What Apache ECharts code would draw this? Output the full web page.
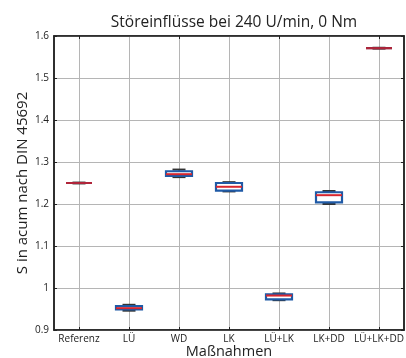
<!DOCTYPE html>
<html>
<head>
<meta charset="utf-8">
<script src="https://cdn.jsdelivr.net/npm/echarts@6/dist/echarts.min.js"></script>
<style>html,body{margin:0;padding:0;background:#fff;}#c{width:406px;height:358px;}</style>
</head>
<body>
<div id="c"></div>
<script>
const categories = ['Referenz', 'LÜ', 'WD', 'LK', 'LÜ+LK', 'LK+DD', 'LÜ+LK+DD'];
const whiskerLow  = [1.249, 0.946, 1.264, 1.230, 0.971, 1.200, 1.570];
const quartile1   = [1.250, 0.949, 1.267, 1.232, 0.973, 1.204, 1.571];
const median      = [1.250, 0.952, 1.271, 1.241, 0.982, 1.221, 1.571];
const quartile3   = [1.250, 0.957, 1.278, 1.250, 0.985, 1.228, 1.571];
const whiskerHigh = [1.251, 0.960, 1.282, 1.252, 0.987, 1.231, 1.572];
const yTicks = [0.9, 1.0, 1.1, 1.2, 1.3, 1.4, 1.5, 1.6];

const data = categories.map((c, i) => [i, whiskerLow[i], quartile1[i], median[i], quartile3[i], whiskerHigh[i]]);
const FONT = '"Open Sans", "Noto Sans", sans-serif';

const chart = echarts.init(document.getElementById('c'), null, {renderer: 'canvas'});
chart.setOption({
  animation: false,
  backgroundColor: '#fff',
  title: {
    text: 'Störeinflüsse bei 240 U/min, 0 Nm',
    left: 229, textAlign: 'center', top: 10,
    textStyle: {fontFamily: FONT, fontSize: 15.5, fontWeight: 'normal', color: '#222'}
  },
  grid: {left: 54, right: 2, top: 36, bottom: 28, show: true, borderColor: '#222', borderWidth: 1.5,
    containLabel: false, outerBoundsMode: 'none'},
  xAxis: [{
    type: 'category', data: categories, position: 'bottom',
    name: 'Maßnahmen', nameLocation: 'middle', nameGap: 14, nameMoveOverlap: false,
    nameTextStyle: {fontFamily: FONT, fontSize: 14.5, color: '#222', verticalAlign: 'top'},
    axisLine: {show: true, lineStyle: {color: '#222', width: 1.5}},
    axisTick: {show: true, inside: true, alignWithLabel: true, length: 3, lineStyle: {color: '#222'}},
    axisLabel: {fontFamily: FONT, fontSize: 10, color: '#222', margin: 4, interval: 0},
    splitLine: {show: true, alignWithLabel: true, lineStyle: {color: '#b5b5b5', width: 1}}
  }, {
    type: 'category', data: categories, position: 'top',
    axisLine: {show: true, lineStyle: {color: '#222', width: 1.5}},
    axisTick: {show: true, inside: true, alignWithLabel: true, length: 3, lineStyle: {color: '#222'}},
    axisLabel: {show: false}, splitLine: {show: false}
  }],
  yAxis: [{
    type: 'value', min: 0.9, max: 1.6, interval: 0.1, position: 'left',
    name: 'S in acum nach DIN 45692', nameLocation: 'middle', nameGap: 24, nameRotate: 90, nameMoveOverlap: false,
    nameTextStyle: {fontFamily: FONT, fontSize: 15, color: '#222'},
    axisLine: {show: true, lineStyle: {color: '#222', width: 1.5}},
    axisTick: {show: true, inside: true, length: 3, lineStyle: {color: '#222'}},
    axisLabel: {fontFamily: FONT, fontSize: 10, color: '#222', margin: 5,
      formatter: v => String(parseFloat(v.toFixed(2)))},
    splitLine: {show: true, lineStyle: {color: '#b5b5b5', width: 1}}
  }, {
    type: 'value', min: 0.9, max: 1.6, interval: 0.1, position: 'right',
    axisLine: {show: true, lineStyle: {color: '#222', width: 1.5}},
    axisTick: {show: true, inside: true, length: 3, lineStyle: {color: '#222'}},
    axisLabel: {show: false}, splitLine: {show: false}
  }],
  series: [{
    type: 'custom',
    xAxisIndex: 0, yAxisIndex: 0,
    data: data,
    encode: {x: 0, y: [1, 2, 3, 4, 5]},
    renderItem: function (params, api) {
      const x = api.value(0);
      const lo = api.coord([x, api.value(1)]);
      const b1 = api.coord([x, api.value(2)]);
      const md = api.coord([x, api.value(3)]);
      const b3 = api.coord([x, api.value(4)]);
      const hi = api.coord([x, api.value(5)]);
      const bw = api.size([1, 0])[0] * 0.52;
      const cw = bw * 0.5;
      const cx = lo[0];
      const flat = Math.abs(b1[1] - b3[1]) < 0.5;
      return {
        type: 'group',
        children: [
          {type: 'line', shape: {x1: cx - cw / 2, y1: lo[1], x2: cx + cw / 2, y2: lo[1]}, style: {stroke: '#333', lineWidth: 2}},
          {type: 'line', shape: {x1: cx - cw / 2, y1: hi[1], x2: cx + cw / 2, y2: hi[1]}, style: {stroke: '#333', lineWidth: 2}},
          {type: 'line', shape: {x1: cx, y1: lo[1], x2: cx, y2: hi[1]}, style: {stroke: '#333', lineWidth: 1}},
          {type: 'rect', shape: {x: cx - bw / 2, y: b3[1], width: bw, height: b1[1] - b3[1]},
            style: {fill: flat ? 'none' : '#fff', stroke: flat ? '#7a2a45' : '#1f5aa6', lineWidth: 2.2}},
          {type: 'line', shape: {x1: cx - bw / 2, y1: md[1], x2: cx + bw / 2, y2: md[1]},
            style: {stroke: flat ? '#b0253a' : '#d8262e', lineWidth: 2}}
        ]
      };
    }
  }]
});
</script>
</body>
</html>
